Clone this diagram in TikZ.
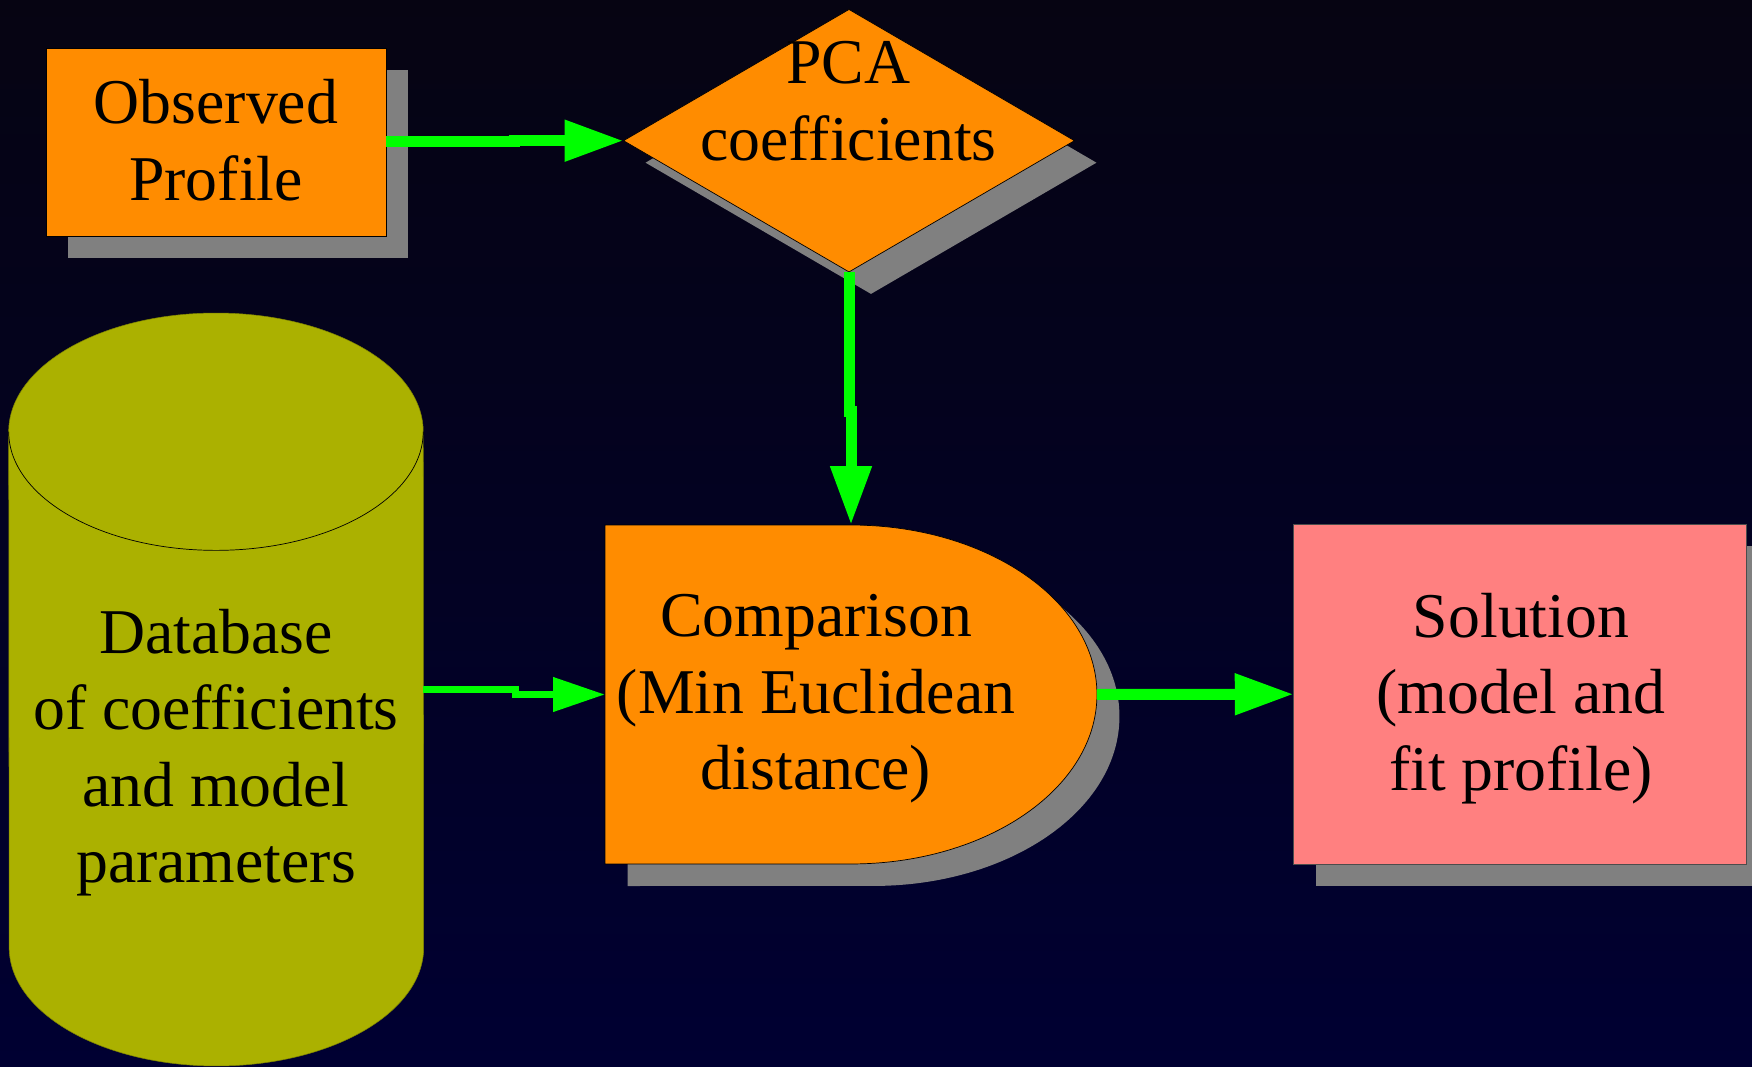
\documentclass[tikz,border=0pt]{standalone}
\usepackage{fontspec}
\setmainfont{Liberation Serif}
\usetikzlibrary{shapes.geometric,arrows.meta,shadows}
\definecolor{bgtop}{RGB}{6,4,18}
\definecolor{bgbot}{RGB}{0,0,50}
\definecolor{boxorange}{RGB}{255,140,0}
\definecolor{dbolive}{RGB}{171,177,0}
\definecolor{solpink}{RGB}{255,128,128}
\definecolor{shadowgray}{RGB}{128,128,128}
\definecolor{flowgreen}{RGB}{0,255,0}
\newcommand{\lbl}[1]{\begin{tabular}[t]{@{}c@{}}#1\end{tabular}}
\begin{document}
\begin{tikzpicture}[x=0.02cm,y=-0.02cm,
  boxshadow/.style={drop shadow={shadow xshift=0.44cm,shadow yshift=-0.44cm,fill=shadowgray,opacity=1}},
  thinline/.style={draw=black,line width=0.4pt},
  lbltext/.style={anchor=base,inner sep=0pt,font=\fontsize{36.3pt}{43.6pt}\selectfont},
  bounds/.style={draw=none,fill=none,inner sep=0pt,outer sep=0pt},
  flow/.style={draw=flowgreen,line width=0.22cm,-{Triangle[length=1.18cm,width=0.78cm]}},
  flowthin/.style={draw=flowgreen,line width=0.146cm,-{Triangle[length=1.04cm,width=0.66cm]}}]
% background
\useasboundingbox (0,0) rectangle (1752,1067);
\shade[top color=bgtop,bottom color=bgbot] (0,0) rectangle (1752,1067);

% database cylinder
\node[bounds,minimum width=8.3cm,minimum height=15.06cm] (db) at (216,689.5) {};
\path[fill=dbolive,draw=dbolive!75!black,line width=0.3pt] (8.7,431.7)
  arc[start angle=180,end angle=0,x radius=4.146cm,y radius=2.374cm] -- (423.7,947.3)
  arc[start angle=0,end angle=-180,x radius=4.146cm,y radius=2.374cm] -- cycle;
\draw[black,line width=0.4pt] (8.7,431.7) arc[start angle=180,end angle=360,x radius=4.146cm,y radius=2.374cm];

% comparison D shape
\node[bounds,minimum width=9.84cm,minimum height=6.78cm] (cmp) at (851,694.5) {};
\fill[shadowgray] (627.5,547) -- (873.5,547) arc[start angle=90,end angle=-90,x radius=4.92cm,y radius=3.39cm] -- (627.5,886) -- cycle;
\path[fill=boxorange,thinline] (cmp.north west) -- (cmp.north)
  arc[start angle=90,end angle=-90,x radius=4.92cm,y radius=3.39cm] -- (cmp.south west) -- cycle;

% boxes
\node[rectangle,fill=boxorange,thinline,inner sep=0pt,outer sep=0pt,boxshadow,
  minimum width=6.8cm,minimum height=3.76cm] (obs) at (216,142) {};
\node[diamond,fill=boxorange,thinline,inner sep=0pt,outer sep=0pt,boxshadow,
  minimum width=9.02cm,minimum height=5.25cm] (pca) at (849,140.7) {};
\node[rectangle,fill=solpink,draw=black!70,line width=0.4pt,inner sep=0pt,outer sep=0pt,boxshadow,
  minimum width=9.06cm,minimum height=6.79cm] (sol) at (1520.2,694.2) {};

% connectors
\draw[flow] (obs.east) -- ++(129,0) |- (pca.west);
\draw[flow] (pca.south) -- ++(0,140) -| (cmp.north);
\draw[flowthin] (db.east) -- ++(92,0) |- (cmp.west);
\draw[flow] (cmp.east) -- (sol.west);

% texts
\node[lbltext] (tobs) at (216,124) {\lbl{Observed\\Profile}};
\node[lbltext] (tpca) at (848.5,84) {\lbl{PCA\\coefficients}};
\node[lbltext] (tdb) at (216,653) {\lbl{Database\\of coefficients\\and model\\parameters}};
\node[lbltext] (tcmp) at (816,636.7) {\lbl{Comparison\\(Min Euclidean\\distance)}};
\node[lbltext] (tsol) at (1521,637.3) {\lbl{Solution\\(model and\\fit profile)}};
\end{tikzpicture}
\end{document}
